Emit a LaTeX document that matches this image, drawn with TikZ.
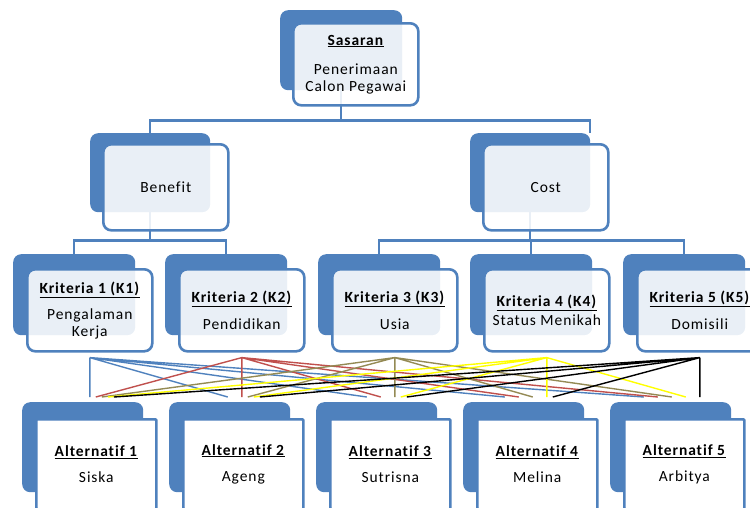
\documentclass[tikz,border=0pt]{standalone}
\usepackage{fontspec}
\setmainfont{Carlito}[LetterSpace=6, Ligatures=NoCommon]
\usetikzlibrary{positioning}
\definecolor{boxblue}{HTML}{4F81BD}
\definecolor{kred}{HTML}{C0504D}
\definecolor{kolive}{HTML}{948A54}
\definecolor{kyellow}{HTML}{FFFF00}
\tikzset{x=1pt, y=-1pt,
  back/.style={fill=boxblue, rounded corners=8pt, anchor=north west, inner sep=0pt},
  front/.style={draw=boxblue, line width=2.6pt, fill=white, fill opacity=0.88, text opacity=1,
    rounded corners=8pt, align=center, inner sep=0pt, font=\fontsize{15.5}{16.5}\selectfont},
  altfront/.style={front, fill opacity=1, rounded corners=1pt},
  conn/.style={draw=boxblue, line width=2.5pt},
  web/.style={line width=1.4pt}}

\begin{document}
\begin{tikzpicture}
\clip (0,0) rectangle (750,507);

% back boxes
\node (sasB) [back, minimum width=122, minimum height=80] at (280,10) {};
\node (benB) [back, minimum width=120, minimum height=79] at (90,133) {};
\node (costB) [back, minimum width=120, minimum height=79] at (470,133) {};

\node (k1B) [back, minimum width=122, minimum height=81] at (13,254) {};
\node (k2B) [back, minimum width=122, minimum height=81] at (165,254) {};
\node (k3B) [back, minimum width=122, minimum height=81] at (318,254) {};
\node (k4B) [back, minimum width=122, minimum height=81] at (470,254) {};
\node (k5B) [back, minimum width=122, minimum height=81] at (623,254) {};

\node (a1B) [back, minimum width=121, minimum height=90] at (22,402) {};
\node (a2B) [back, minimum width=121, minimum height=90] at (169,402) {};
\node (a3B) [back, minimum width=121, minimum height=90] at (316,402) {};
\node (a4B) [back, minimum width=121, minimum height=90] at (463,402) {};
\node (a5B) [back, minimum width=121, minimum height=90] at (610,402) {};

% tree connectors
\coordinate (costTop) at (590,133);
\draw [conn] (sasB.south) -- ++(0,30) -| (benB.north);
\draw [conn] (sasB.south) ++(0,30) -| (costTop);
\draw [conn] (benB.south) -- ++(0,28) -| (k1B.north);
\draw [conn] (benB.south) ++(0,28) -| (k2B.north);
\draw [conn] (costB.south) -- ++(0,28) -| (k3B.north);
\draw [conn] (costB.south) ++(0,28) -| (k4B.north);
\draw [conn] (costB.south) ++(0,28) -| (k5B.north);

% front boxes
\node (sas) [front, minimum width=125, minimum height=82, below right=12pt and 12pt of sasB.north west]
  {\underline{\textbf{Sasaran}}\\[13pt]Penerimaan\\Calon Pegawai};
\node (ben) [front, minimum width=125, minimum height=86, below right=10pt and 12pt of benB.north west] {Benefit};
\node (cost) [front, minimum width=125, minimum height=86, below right=10pt and 12pt of costB.north west] {Cost};

\node (k1) [front, minimum width=125, minimum height=82, below right=14pt and 13pt of k1B.north west]
  {\underline{\textbf{Kriteria 1 (K1)}}\\[10pt]Pengalaman\\Kerja};
\node (k2) [front, minimum width=125, minimum height=82, below right=14pt and 13pt of k2B.north west]
  {\underline{\textbf{Kriteria 2 (K2)}}\\[10pt]Pendidikan};
\node (k3) [front, minimum width=125, minimum height=82, below right=14pt and 13pt of k3B.north west]
  {\underline{\textbf{Kriteria 3 (K3)}}\\[10pt]Usia};
\node (k4) [front, minimum width=125, minimum height=82, below right=14pt and 13pt of k4B.north west]
  {\underline{\textbf{Kriteria 4 (K4)}}\\[3pt]Status Menikah};
\node (k5) [front, minimum width=125, minimum height=82, below right=14pt and 13pt of k5B.north west]
  {\underline{\textbf{Kriteria 5 (K5)}}\\[10pt]Domisili};

\node (a1) [altfront, minimum width=120, minimum height=90, below right=16pt and 13pt of a1B.north west]
  {\underline{\textbf{Alternatif 1}}\\[10pt]Siska};
\node (a2) [altfront, minimum width=120, minimum height=90, below right=16pt and 13pt of a2B.north west]
  {\underline{\textbf{Alternatif 2}}\\[10pt]Ageng};
\node (a3) [altfront, minimum width=120, minimum height=90, below right=16pt and 13pt of a3B.north west]
  {\underline{\textbf{Alternatif 3}}\\[10pt]Sutrisna};
\node (a4) [altfront, minimum width=120, minimum height=90, below right=16pt and 13pt of a4B.north west]
  {\underline{\textbf{Alternatif 4}}\\[10pt]Melina};
\node (a5) [altfront, minimum width=120, minimum height=90, below right=16pt and 13pt of a5B.north west]
  {\underline{\textbf{Alternatif 5}}\\[10pt]Arbitya};

% criteria to alternatives
\coordinate (c1) at ([yshift=-5pt]k1.south);
\coordinate (c2) at ([yshift=-5pt]k2.south);
\coordinate (c3) at ([yshift=-5pt]k3.south);
\coordinate (c4) at ([yshift=-5pt]k4.south);
\coordinate (c5) at ([yshift=-5pt]k5.south);
\coordinate (p1) at (c1 |- 0,397);
\coordinate (p2) at (c2 |- 0,397);
\coordinate (p3) at (c3 |- 0,397);
\coordinate (p4) at (c4 |- 0,397);
\coordinate (p5) at (c5 |- 0,397);

\draw [web, boxblue] (c1) -- (p1) (c1) -- ([xshift=-14]p2) (c1) -- ([xshift=-28]p3)
  (c1) -- ([xshift=-42]p4) (c1) -- ([xshift=-56]p5);
\draw [web, kred] (c2) -- ([xshift=6]p1) (c2) -- (p2) (c2) -- ([xshift=-14]p3)
  (c2) -- ([xshift=-28]p4) (c2) -- ([xshift=-42]p5);
\draw [web, kolive] (c3) -- ([xshift=12]p1) (c3) -- ([xshift=6]p2) (c3) -- (p3)
  (c3) -- ([xshift=-14]p4) (c3) -- ([xshift=-28]p5);
\draw [web, kyellow] (c4) -- ([xshift=18]p1) (c4) -- ([xshift=12]p2) (c4) -- ([xshift=6]p3)
  (c4) -- (p4) (c4) -- ([xshift=-14]p5);
\draw [web, black] (c5) -- ([xshift=24]p1) (c5) -- ([xshift=18]p2) (c5) -- ([xshift=12]p3)
  (c5) -- ([xshift=6]p4) (c5) -- (p5);
\end{tikzpicture}
\end{document}
